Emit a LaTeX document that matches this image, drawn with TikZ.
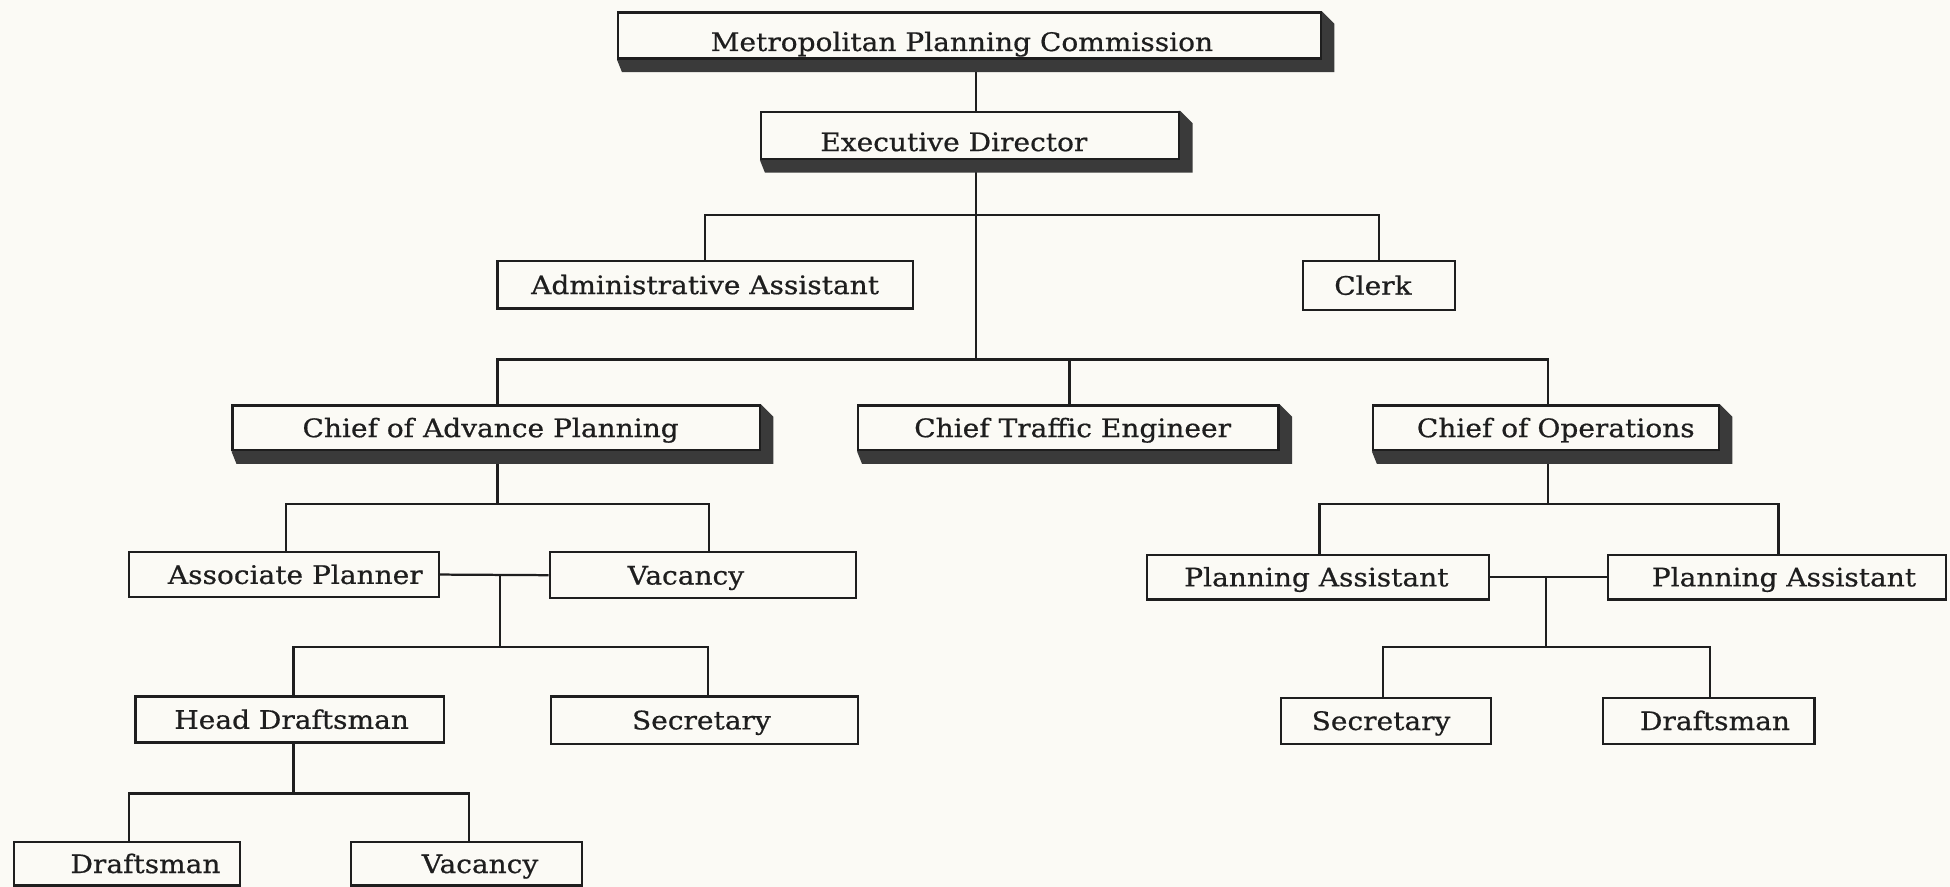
\documentclass[tikz,border=0pt]{standalone}
\usepackage{fontspec}
\newfontfamily\orgfont[FakeStretch=1.1,FakeBold=0.6]{DejaVu Serif}
\pgfdeclarelayer{paperlayer}
\pgfdeclarelayer{back}
\pgfdeclarelayer{shade}
\pgfsetlayers{paperlayer,back,shade,main}
\definecolor{paper}{RGB}{251,250,245}
\definecolor{ink}{RGB}{30,30,30}
\definecolor{shadowc}{RGB}{58,58,58}
\tikzset{
  box/.style={draw=ink, line width=1.8pt, fill=paper, inner sep=0pt,
    text height=15pt, text depth=0pt,
    font=\orgfont\fontsize{20.5}{24}\selectfont, text=ink},
  lowtext/.style={text height=25pt, text depth=0pt},
  link/.style={draw=ink, line width=1.8pt},
}
% shift the label right (+) or left (-) inside a fixed-width box
\newcommand{\rt}[2]{\hspace*{#1}#2}
\newcommand{\lf}[2]{#2\hspace*{#1}}
\newcommand{\boxshade}[1]{%
  \begin{pgfonlayer}{shade}
  \fill[shadowc] (#1.south west) -- ([xshift=4pt,yshift=-10pt]#1.south west)
    -- ([xshift=10pt,yshift=-10pt]#1.south east)
    -- ([xshift=10pt,yshift=-10pt]#1.north east) -- (#1.north east) -- cycle;
  \end{pgfonlayer}}
\begin{document}
\begin{tikzpicture}[x=1pt,y=-1pt]
\begin{pgfonlayer}{paperlayer}
\fill[paper] (0,0) rectangle (1568,713);
\end{pgfonlayer}
\useasboundingbox (0,0) rectangle (1568,713);

% shadowed boxes
\node[box, lowtext, minimum width=565pt, minimum height=37pt] (MPC) at (779.5,28.5) {\lf{12pt}{Metropolitan Planning Commission}};
\node[box, lowtext, minimum width=336pt, minimum height=38pt] (ED) at (780,109) {\lf{26pt}{Executive Director}};
\node[box, minimum width=424pt, minimum height=36pt] (CAP) at (399,344) {\lf{9pt}{Chief of Advance Planning}};
\node[box, minimum width=338pt, minimum height=36pt] (CTE) at (859,344) {\rt{7pt}{Chief Traffic Engineer}};
\node[box, minimum width=278pt, minimum height=36pt] (CO) at (1243,344) {\rt{16pt}{Chief of Operations}};
\boxshade{MPC}\boxshade{ED}\boxshade{CAP}\boxshade{CTE}\boxshade{CO}

% plain boxes
\node[box, minimum width=334pt, minimum height=38pt] (AA) at (567,229) {Administrative Assistant};
\node[box, minimum width=122pt, minimum height=39pt] (CL) at (1109,229.5) {\lf{10pt}{Clerk}};
\node[box, minimum width=249pt, minimum height=36pt] (AP) at (228.5,462) {\rt{18pt}{Associate Planner}};
\node[box, minimum width=246pt, minimum height=37pt] (V1) at (565,462.5) {\lf{27pt}{Vacancy}};
\node[box, minimum width=248pt, minimum height=37pt] (HD) at (233,578.5) {\rt{3pt}{Head Draftsman}};
\node[box, minimum width=247pt, minimum height=38pt] (S1) at (566.5,579) {\lf{5pt}{Secretary}};
\node[box, minimum width=182pt, minimum height=35pt] (D1) at (102,694.5) {\rt{30pt}{Draftsman}};
\node[box, minimum width=186pt, minimum height=35pt] (V2) at (375,694.5) {\rt{22pt}{Vacancy}};
\node[box, minimum width=275pt, minimum height=36pt] (PA1) at (1059.5,464) {\lf{2pt}{Planning Assistant}};
\node[box, minimum width=272pt, minimum height=36pt] (PA2) at (1429,464) {\rt{11pt}{Planning Assistant}};
\node[box, minimum width=169pt, minimum height=37pt] (S2) at (1114.5,579.5) {\lf{8pt}{Secretary}};
\node[box, minimum width=170pt, minimum height=37pt] (D2) at (1374,579.5) {\rt{10pt}{Draftsman}};

% junction coordinates
\coordinate (trunk) at (785,0);
\coordinate (bar1) at (785,173);
\coordinate (bar2) at (785,289);
\coordinate (bar3) at (400,405);
\coordinate (j1) at (402,463);
\coordinate (bar4) at (402,520);
\coordinate (bar5) at (236,638);
\coordinate (bar6) at (1245,405);
\coordinate (j2) at (1243,464);
\coordinate (bar7) at (1243,520);

\begin{pgfonlayer}{back}
\draw[link] (MPC.south -| trunk) -- (ED.north -| trunk);
\draw[link] (ED.south -| trunk) -- (bar2);
\draw[link] (AA.north) |- (bar1) -| (CL.north);
\draw[link] ([xshift=1pt]CAP.north) |- (bar2) -| ([xshift=2pt]CO.north);
\draw[link] ([xshift=1pt]CTE.north) -- ([xshift=1pt]CTE.north |- bar2);
\draw[link] (bar3 |- CAP.south) -- (bar3);
\draw[link] ([xshift=1.5pt]AP.north) |- (bar3) -| ([xshift=5pt]V1.north);
\draw[link] (AP.east) -- (V1.west);
\draw[link] (j1) -- (bar4);
\draw[link] ([xshift=3pt]HD.north) |- (bar4) -| ([xshift=2.5pt]S1.north);
\draw[link] (bar5 |- HD.south) -- (bar5);
\draw[link] ([xshift=2pt]D1.north) |- (bar5) -| ([xshift=2pt]V2.north);
\draw[link] (bar6 |- CO.south) -- (bar6);
\draw[link] ([xshift=1.5pt]PA1.north) |- (bar6) -| ([xshift=1pt]PA2.north);
\draw[link] (PA1.east) -- (PA2.west);
\draw[link] (j2) -- (bar7);
\draw[link] ([xshift=-2.5pt]S2.north) |- (bar7) -| ([xshift=1pt]D2.north);
\end{pgfonlayer}
\end{tikzpicture}
\end{document}
